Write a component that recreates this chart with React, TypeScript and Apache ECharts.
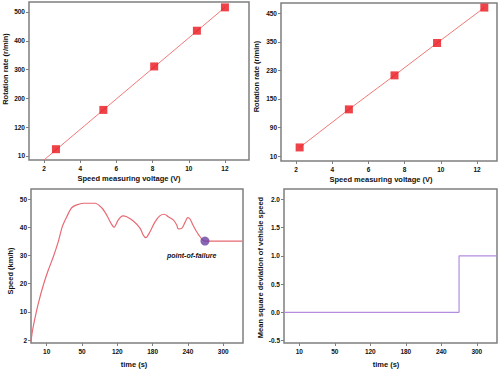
import { useEffect, useRef } from "react";
import * as echarts from "echarts";

// Tick labels (the original axes use evenly spaced, non-linear labels)
const voltageTicks = [2, 4, 6, 8, 10, 12];
const rpmTicksA = [10, 120, 200, 300, 400, 500];
const rpmTicksB = [10, 90, 150, 230, 350, 450];
const timeTicks = [10, 50, 120, 180, 240, 300];
const speedTicks = [2, 10, 20, 30, 40, 50];
const msdTicks = [-0.5, 0.0, 0.5, 1.0, 1.5, 2.0];

// Top-left calibration
const voltageA = [2.66, 5.28, 8.09, 10.45, 12.0];
const rpmA = [36, 168, 311, 435, 516];
const fitVoltageA = [2.0, 12.0];
const fitRpmA = [-5, 516];

// Top-right calibration
const voltageB = [2.2, 4.92, 7.44, 9.79, 12.4];
const rpmB = [34, 128, 216, 345, 470];

// Bottom-left speed trace
const timeS = [
  -7.8, -6.3, -3.3, 0.5, 6.2, 11.8, 17.5, 23.1, 27.7, 32.7, 38.3, 44, 52.6, 75.8, 89, 99,
  107.5, 113.5, 121.7, 129.2, 136, 147.2, 158.6, 164.2, 168.3, 175.6, 184.1, 192.6, 199.9,
  206.7, 215.2, 221, 223.7, 229.5, 235.1, 239.7, 243.6, 249.2, 257.7, 269, 332.5,
];
const speedKmh = [
  1.5, 4.35, 8.2, 13.0, 19.5, 24.8, 29.5, 34.9, 40.2, 43.7, 46.9, 47.9, 48.5, 48.5, 46.9, 44.3,
  41.4, 40.0, 42.6, 44.0, 43.7, 42.2, 39.7, 37.2, 36.3, 38.4, 41.9, 44.1, 44.6,
  43.7, 42.6, 40.8, 39.4, 39.6, 41.7, 43.4, 42.9, 40.5, 37.5, 35.1, 35.1,
];
const failureTime = 269;
const failureSpeed = 35.1;

// Bottom-right mean square deviation
const msdTime = [-7, 270, 270, 334];
const msdValue = [0, 0, 1, 1];

function toPos(v: number, ticks: number[]): number {
  const n = ticks.length;
  let i = 0;
  if (v <= ticks[0]) i = 0;
  else if (v >= ticks[n - 1]) i = n - 2;
  else {
    while (i < n - 2 && v > ticks[i + 1]) i++;
  }
  return i + (v - ticks[i]) / (ticks[i + 1] - ticks[i]);
}

const idx = [0, 1, 2, 3, 4, 5];
const FRAME = "#7f7f7f";
const FONT = "Liberation Sans";

function axisCommon(custom: number[], fmt: (v: number) => string, isY: boolean) {
  return {
    axisLine: { show: false, onZero: false },
    splitLine: { show: false },
    axisTick: {
      show: true,
      customValues: custom,
      length: 3,
      inside: false,
      lineStyle: { color: FRAME, width: 1 },
    },
    axisLabel: {
      customValues: custom,
      formatter: fmt,
      color: "#111",
      fontFamily: FONT,
      fontWeight: "bold",
      fontSize: 6.5,
      margin: isY ? 4 : 5,
    },
  };
}

export default function App() {
  const ref = useRef<HTMLDivElement>(null);
  useEffect(() => {
    if (!ref.current) return;
    const chart = echarts.init(ref.current, null, { renderer: "svg" });
    const idxFmt = (ticks: number[]) => (v: number) => String(ticks[Math.round(v)]);

    const titleStyle = (text: string, extra: any = {}) => ({
      text,
      fill: "#111",
      font: `bold 7.5px "${FONT}"`,
      align: "center",
      verticalAlign: "middle",
      ...extra,
    });

    chart.setOption({
      animation: false,
      backgroundColor: "#fff",
      grid: [
        { left: 29, top: 2, width: 220, height: 158 },
        { left: 281, top: 3, width: 216, height: 158 },
        { left: 31, top: 189, width: 212, height: 154 },
        { left: 284, top: 189, width: 213, height: 154 },
      ].map((g) => ({ ...g, show: true, borderColor: FRAME, borderWidth: 1.5, containLabel: false })),
      xAxis: [
        { type: "value", gridIndex: 0, min: 1.17, max: 13.33, ...axisCommon(voltageTicks, (v) => String(v), false) },
        { type: "value", gridIndex: 1, min: 1.171, max: 13.1, ...axisCommon(voltageTicks, (v) => String(v), false) },
        { type: "value", gridIndex: 2, min: -0.445, max: 5.561, ...axisCommon(idx, idxFmt(timeTicks), false) },
        { type: "value", gridIndex: 3, min: -0.431, max: 5.569, ...axisCommon(idx, idxFmt(timeTicks), false) },
      ],
      yAxis: [
        { type: "value", gridIndex: 0, min: -0.139, max: 5.347, ...axisCommon(idx, idxFmt(rpmTicksA), true) },
        { type: "value", gridIndex: 1, min: -0.175, max: 5.36, ...axisCommon(idx, idxFmt(rpmTicksB), true) },
        { type: "value", gridIndex: 2, min: -0.106, max: 5.355, ...axisCommon(idx, idxFmt(speedTicks), true) },
        { type: "value", gridIndex: 3, min: -0.544, max: 2.186, ...axisCommon(msdTicks, (v) => v.toFixed(1), true) },
      ],
      series: [
        {
          type: "line",
          xAxisIndex: 0,
          yAxisIndex: 0,
          data: fitVoltageA.map((x, i) => [x, toPos(fitRpmA[i], rpmTicksA)]),
          symbol: "none",
          lineStyle: { color: "#f07a78", width: 1 },
          z: 2,
        },
        {
          type: "scatter",
          xAxisIndex: 0,
          yAxisIndex: 0,
          data: voltageA.map((x, i) => [x, toPos(rpmA[i], rpmTicksA)]),
          symbol: "rect",
          symbolSize: 8,
          itemStyle: { color: "#e8141c" },
          z: 3,
        },
        {
          type: "line",
          xAxisIndex: 1,
          yAxisIndex: 1,
          data: voltageB.map((x, i) => [x, toPos(rpmB[i], rpmTicksB)]),
          symbol: "none",
          lineStyle: { color: "#f07a78", width: 1 },
          z: 2,
        },
        {
          type: "scatter",
          xAxisIndex: 1,
          yAxisIndex: 1,
          data: voltageB.map((x, i) => [x, toPos(rpmB[i], rpmTicksB)]),
          symbol: "rect",
          symbolSize: 8,
          itemStyle: { color: "#e8141c" },
          z: 3,
        },
        {
          type: "line",
          xAxisIndex: 2,
          yAxisIndex: 2,
          data: timeS.map((t, i) => [toPos(t, timeTicks), toPos(speedKmh[i], speedTicks)]),
          symbol: "none",
          smooth: 0.3,
          lineStyle: { color: "#e86a74", width: 1.2 },
          z: 2,
        },
        {
          type: "scatter",
          xAxisIndex: 2,
          yAxisIndex: 2,
          data: [[toPos(failureTime, timeTicks), toPos(failureSpeed, speedTicks)]],
          symbol: "circle",
          symbolSize: 9,
          itemStyle: { color: "#6a3fa2" },
          z: 3,
        },
        {
          type: "line",
          xAxisIndex: 3,
          yAxisIndex: 3,
          data: msdTime.map((t, i) => [toPos(t, timeTicks), msdValue[i]]),
          symbol: "none",
          lineStyle: { color: "#b48ce0", width: 1.2 },
        },
      ],
      graphic: [
        { type: "text", x: 129, y: 178, style: titleStyle("Speed measuring voltage (V)") },
        { type: "text", x: 381, y: 179, style: titleStyle("Speed measuring voltage (V)") },
        { type: "text", x: 5, y: 69, rotation: Math.PI / 2, style: titleStyle("Rotation rate (r/min)") },
        { type: "text", x: 256, y: 76.5, rotation: Math.PI / 2, style: titleStyle("Rotation rate (r/min)") },
        { type: "text", x: 10, y: 271, rotation: Math.PI / 2, style: titleStyle("Speed (km/h)") },
        { type: "text", x: 134, y: 364.3, style: titleStyle("time (s)") },
        { type: "text", x: 386, y: 364, style: titleStyle("time (s)") },
        {
          type: "text",
          x: 260,
          y: 267.5,
          rotation: Math.PI / 2,
          style: titleStyle("Mean square deviation of vehicle speed"),
        },
        {
          type: "text",
          x: 191.7,
          y: 255.7,
          style: titleStyle("point-of-failure", { font: `italic bold 7px "${FONT}"` }),
        },
      ],
    });
    return () => chart.dispose();
  }, []);
  return (
    <div
      ref={ref}
      style={{ position: "fixed", left: 0, top: 0, width: 500, height: 371, background: "#fff" }}
    />
  );
}
